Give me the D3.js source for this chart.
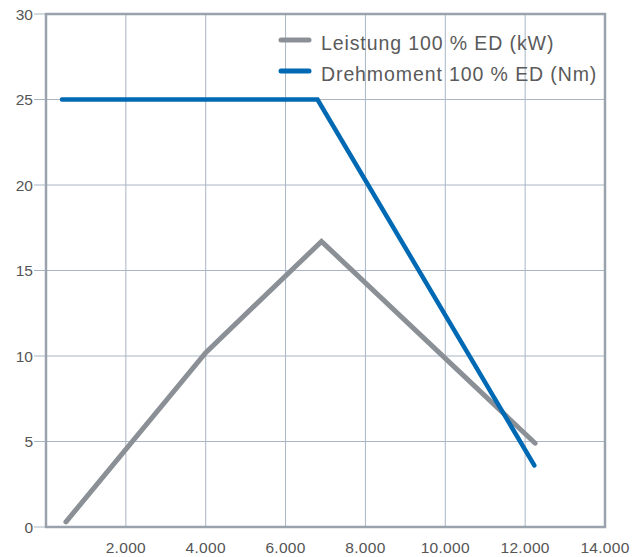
<!DOCTYPE html>
<html><head><meta charset="utf-8">
<script src="https://cdn.jsdelivr.net/npm/d3@7"></script>
<style>body{margin:0;background:#fff}svg{display:block}text{font-family:"Liberation Sans",Arial,sans-serif}</style>
</head><body><svg id="c" width="636" height="557"></svg>
<script>
const xTicks = [2000,4000,6000,8000,10000,12000,14000];
const yTicks = [0,5,10,15,20,25,30];
const leistungX = [500,4000,6900,12250];
const leistungY = [0.3,10.2,16.7,4.9];
const drehX = [400,6800,12230];
const drehY = [25,25,3.6];
const seriesNames = ["Leistung 100 % ED (kW)","Drehmoment 100 % ED (Nm)"];
const colors = ["#8b9096","#0069b4"];

const svg = d3.select("#c");
const m = {l:46,r:605,t:14,b:527};
const x = d3.scaleLinear().domain([0,14000]).range([m.l,m.r]);
const y = d3.scaleLinear().domain([0,30]).range([m.b,m.t]);
const fmt = d => d3.format(",")(d).replace(/,/g,".");

// grid
svg.append("g").selectAll("line").data(xTicks).join("line")
 .attr("x1",d=>x(d)).attr("x2",d=>x(d)).attr("y1",m.t).attr("y2",m.b)
 .attr("stroke","#a9b5c3").attr("stroke-width",1);
svg.append("g").selectAll("line").data(yTicks).join("line")
 .attr("x1",m.l-12).attr("x2",m.r).attr("y1",d=>y(d)).attr("y2",d=>y(d))
 .attr("stroke","#a9b5c3").attr("stroke-width",1);
// frame
svg.append("path").attr("d",`M${m.l},${m.b}V${m.t}H${m.r}V${m.b}Z`)
 .attr("fill","none").attr("stroke","#9aa3ad").attr("stroke-width",2.5);

// tick labels
svg.append("g").selectAll("text").data(yTicks).join("text")
 .attr("x",33).attr("y",d=>y(d)).attr("dy","0.36em").attr("text-anchor","end")
 .attr("font-size",15.5).attr("fill","#555").text(d=>d);
svg.append("g").selectAll("text").data(xTicks).join("text")
 .attr("x",d=>x(d)).attr("y",553).attr("text-anchor","middle")
 .attr("font-size",15.5).attr("letter-spacing",0.3).attr("fill","#555").text(fmt);

const line = d3.line().x(d=>x(d[0])).y(d=>y(d[1]));
const data = [d3.zip(leistungX,leistungY), d3.zip(drehX,drehY)];
data.forEach((pts,i)=>{
  svg.append("path").attr("d",line(pts)).attr("fill","none")
   .attr("stroke",colors[i]).attr("stroke-width",i?4.5:5)
   .attr("stroke-linecap","round").attr("stroke-linejoin","miter");
});

// legend
const lg = svg.append("g");
seriesNames.forEach((n,i)=>{
  const yy = 40 + i*31;
  lg.append("line").attr("x1",281).attr("x2",309).attr("y1",yy).attr("y2",yy)
   .attr("stroke",colors[i]).attr("stroke-width",5).attr("stroke-linecap","round");
  lg.append("text").attr("x",321).attr("y",yy+3).attr("dy","0.36em")
   .attr("font-size",19.5).attr("letter-spacing",0.9).attr("fill","#5a5a5a").text(n);
});
</script></body></html>
